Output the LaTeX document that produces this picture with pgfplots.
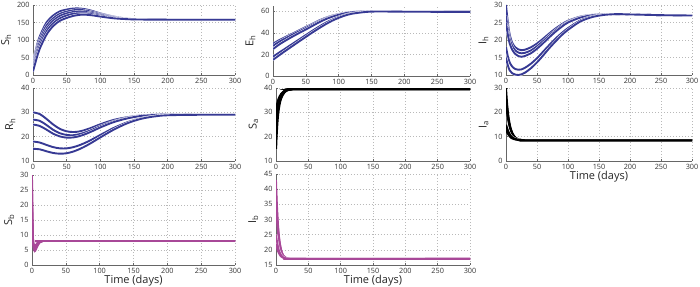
\documentclass[border=0pt]{standalone}
\usepackage{fontspec}
\setmainfont{Open Sans}
\usepackage{pgfplots}
\pgfplotsset{compat=1.18}
\definecolor{hblue}{RGB}{55,58,148}
\definecolor{bmag}{RGB}{168,72,152}
\pgfplotsset{
  panel/.style={
    scale only axis, anchor=south west,
    axis x line*=bottom, axis y line*=left,
    axis line style={draw=gray!80!black, line width=0.5pt},
    xmin=0, xmax=300, xtick={0,50,...,300},
    grid=major, major grid style={dash pattern=on 0.7pt off 2.3pt, gray!55, line width=0.5pt},
    tick align=inside, major tick length=2pt, tick style={gray!80!black, line width=0.4pt},
    ticklabel style={font=\fontsize{7.3}{8}\selectfont, text=black!80},
    /pgf/number format/assume math mode=true,
    label style={font=\fontsize{11}{12}\selectfont, text=black!85},
    xlabel style={yshift=5.5pt},
    ylabel style={yshift=-1pt},
    every axis plot/.append style={smooth, line width=1.9pt, no marks},
    scaled y ticks=false,
  },
  hl/.style={preaction={draw=white, line width=2.7pt}},
}
\begin{document}
\begin{tikzpicture}
\useasboundingbox (0,0) rectangle (700bp,-287bp);
% ---------- S_h
\begin{axis}[panel, at={(33bp,-75bp)}, width=202bp, height=70bp,
  ymin=0, ymax=200, ytick={0,50,...,200}, ylabel={S\textsubscript{h}}]
\addplot[hblue,hl] coordinates {(0,35)(5,78)(10,110)(20,150)(30,170)(40,182)(50,187)(60,190)(70,190)(80,187)(90,182)(100,176)(120,167)(140,161)(160,159)(200,158)(300,158)};
\addplot[hblue,hl] coordinates {(0,28)(5,70)(10,101)(20,141)(30,162)(40,175)(50,181)(60,185)(70,186)(80,183.5)(90,179)(100,174)(120,166)(140,160.7)(160,158.8)(200,158)(300,158)};
\addplot[hblue,hl] coordinates {(0,22)(5,62)(10,93)(20,132)(30,155)(40,169)(50,176)(60,180)(70,181)(80,179.5)(90,176)(100,172)(120,165)(140,160.3)(160,158.7)(200,158)(300,158)};
\addplot[hblue,hl] coordinates {(0,16)(5,54)(10,84)(20,124)(30,148)(40,162)(50,170)(60,175)(70,176.5)(80,176)(90,173)(100,169.5)(120,163.5)(140,160)(160,158.6)(200,158)(300,158)};
\addplot[hblue,hl] coordinates {(0,10)(5,45)(10,75)(20,115)(30,140)(40,155)(50,163)(60,169)(70,172)(80,172)(90,170)(100,167)(120,162)(140,159.5)(160,158.5)(200,158)(300,158)};
\end{axis}
% ---------- E_h
\begin{axis}[panel, at={(273bp,-76bp)}, width=197bp, height=70bp,
  ymin=0, ymax=65, ytick={0,20,40,60}, ylabel={E\textsubscript{h}}]
\addplot[hblue,hl] coordinates {(0,30)(10,33.5)(20,36.5)(30,39.5)(40,42.5)(50,45.5)(60,48.5)(70,51.5)(80,54)(90,56)(100,57.5)(110,58.7)(120,59.4)(140,60)(160,60)(200,59.7)(300,59.5)};
\addplot[hblue,hl] coordinates {(0,28)(10,32)(20,35.3)(30,38.5)(40,41.5)(50,44.5)(60,47.6)(70,50.6)(80,53.3)(90,55.5)(100,57.2)(110,58.5)(120,59.3)(140,60)(160,60)(200,59.7)(300,59.5)};
\addplot[hblue,hl] coordinates {(0,25)(10,29.5)(20,33.2)(30,36.7)(40,40)(50,43.2)(60,46.5)(70,49.8)(80,52.7)(90,55)(100,56.8)(110,58.3)(120,59.2)(140,59.9)(160,60)(200,59.7)(300,59.5)};
\addplot[hblue,hl] coordinates {(0,18)(10,22)(20,26)(30,30)(40,34)(50,38)(60,42)(70,45.8)(80,49.3)(90,52.3)(100,54.8)(110,56.8)(120,58.2)(140,59.6)(160,59.9)(200,59.7)(300,59.5)};
\addplot[hblue,hl] coordinates {(0,15)(10,19.5)(20,23.8)(30,28)(40,32.2)(50,36.3)(60,40.4)(70,44.3)(80,48)(90,51.3)(100,54)(110,56.2)(120,57.8)(140,59.4)(160,59.9)(200,59.7)(300,59.5)};
\end{axis}
% ---------- I_h
\begin{axis}[panel, at={(506bp,-75bp)}, width=186bp, height=70bp,
  ymin=10, ymax=30, ytick={10,15,...,30}, ylabel={I\textsubscript{h}}]
\addplot[hblue,hl] coordinates {(0,30)(3,25)(6,21.5)(10,19.2)(15,17.9)(20,17.3)(25,17.1)(30,17.2)(40,17.9)(50,19)(60,20.4)(70,21.9)(80,23.3)(90,24.5)(100,25.5)(120,26.7)(140,27.2)(160,27.4)(180,27.4)(200,27.3)(250,27.1)(300,27)};
\addplot[hblue,hl] coordinates {(0,27)(3,23)(6,20.2)(10,18.3)(15,17)(20,16.4)(25,16.2)(30,16.3)(40,17)(50,18.2)(60,19.7)(70,21.3)(80,22.8)(90,24.1)(100,25.2)(120,26.5)(140,27.1)(160,27.35)(180,27.4)(200,27.3)(250,27.1)(300,27)};
\addplot[hblue,hl] coordinates {(0,25)(3,21.5)(6,19)(10,17.2)(15,16)(20,15.4)(25,15.2)(30,15.4)(40,16.2)(50,17.5)(60,19.1)(70,20.8)(80,22.4)(90,23.8)(100,25)(120,26.4)(140,27.1)(160,27.35)(180,27.4)(200,27.3)(250,27.1)(300,27)};
\addplot[hblue,hl] coordinates {(0,18)(3,15.3)(6,13.6)(10,12.4)(15,11.7)(20,11.5)(25,11.6)(30,12)(40,13.2)(50,14.8)(60,16.7)(70,18.6)(80,20.4)(90,22)(100,23.4)(120,25.6)(140,26.8)(160,27.25)(180,27.4)(200,27.3)(250,27.1)(300,27)};
\addplot[hblue,hl] coordinates {(0,15)(3,12.7)(6,11.3)(10,10.5)(15,10.1)(20,10)(25,10.2)(30,10.6)(40,11.9)(50,13.6)(60,15.6)(70,17.7)(80,19.6)(90,21.4)(100,22.9)(120,25.3)(140,26.6)(160,27.2)(180,27.4)(200,27.3)(250,27.1)(300,27)};
\end{axis}
% ---------- R_h
\begin{axis}[panel, at={(33bp,-161bp)}, width=202bp, height=73bp,
  ymin=10, ymax=40, ytick={10,20,30,40}, ylabel={R\textsubscript{h}}]
\addplot[hblue,hl] coordinates {(0,30)(10,29.3)(20,27.3)(30,25)(40,23.2)(50,22.2)(60,21.9)(70,22.2)(80,23)(90,24)(100,25.1)(120,26.9)(140,28)(160,28.7)(180,29)(200,29.1)(250,29)(300,29)};
\addplot[hblue,hl] coordinates {(0,27)(10,26.5)(20,24.8)(30,22.8)(40,21.4)(50,20.7)(60,20.6)(70,21.1)(80,22)(90,23.1)(100,24.3)(120,26.3)(140,27.7)(160,28.6)(180,29)(200,29.1)(250,29)(300,29)};
\addplot[hblue,hl] coordinates {(0,25)(10,24.4)(20,22.9)(30,21.2)(40,20.1)(50,19.6)(60,19.7)(70,20.3)(80,21.3)(90,22.5)(100,23.8)(120,26)(140,27.5)(160,28.5)(180,28.9)(200,29.1)(250,29)(300,29)};
\addplot[hblue,hl] coordinates {(0,18)(10,17.6)(20,16.6)(30,15.7)(40,15.2)(50,15.2)(60,15.7)(70,16.6)(80,17.8)(90,19.2)(100,20.7)(120,23.6)(140,25.9)(160,27.5)(180,28.4)(200,28.9)(250,29)(300,29)};
\addplot[hblue,hl] coordinates {(0,15)(10,14.8)(20,14)(30,13.3)(40,13)(50,13.2)(60,13.9)(70,15)(80,16.4)(90,18)(100,19.7)(120,22.9)(140,25.5)(160,27.3)(180,28.3)(200,28.8)(250,29)(300,29)};
\end{axis}
% ---------- S_a
\begin{axis}[panel, at={(276bp,-161bp)}, width=194bp, height=73bp,
  ymin=10, ymax=40, ytick={10,20,30,40}, ylabel={S\textsubscript{a}},
  every axis plot/.append style={tension=0.45, line width=2.2pt}]
\addplot[black] coordinates {(0,15)(1,21)(2,25.5)(3,28.7)(4,31)(6,34)(8,35.8)(10,37)(13,38.2)(16,38.9)(20,39.3)(25,39.5)(40,39.6)(300,39.6)};
\addplot[black] coordinates {(0,20)(1,24.5)(2,28)(3,30.5)(4,32.4)(6,34.8)(8,36.3)(10,37.3)(13,38.4)(16,39)(20,39.35)(25,39.5)(40,39.6)(300,39.6)};
\addplot[black] coordinates {(0,25)(1,28.2)(2,30.6)(3,32.4)(4,33.8)(6,35.7)(8,36.9)(10,37.7)(13,38.6)(16,39.1)(20,39.4)(25,39.55)(40,39.6)(300,39.6)};
\addplot[black] coordinates {(0,28)(1,30.4)(2,32.2)(3,33.6)(4,34.7)(6,36.2)(8,37.2)(10,37.9)(13,38.7)(16,39.15)(20,39.4)(25,39.55)(40,39.6)(300,39.6)};
\addplot[black] coordinates {(0,30)(1,32)(2,33.5)(3,34.6)(4,35.5)(6,36.7)(8,37.5)(10,38.1)(13,38.8)(16,39.2)(20,39.45)(25,39.55)(40,39.6)(300,39.6)};
\end{axis}
% ---------- I_a
\begin{axis}[panel, at={(506bp,-161bp)}, width=186bp, height=73bp,
  ymin=0, ymax=30, ytick={0,10,20,30}, ylabel={I\textsubscript{a}}, xlabel={Time (days)},
  every axis plot/.append style={tension=0.45, line width=2pt}]
\addplot[black] coordinates {(0,30)(1,26)(2,22.8)(3,20.2)(4,18.1)(6,15)(8,13)(10,11.6)(13,10.2)(16,9.4)(20,8.9)(25,8.65)(30,8.55)(40,8.5)(300,8.5)};
\addplot[black] coordinates {(0,27)(1,23.8)(2,21.2)(3,19)(4,17.2)(6,14.5)(8,12.7)(10,11.4)(13,10.1)(16,9.35)(20,8.85)(25,8.6)(30,8.55)(40,8.5)(300,8.5)};
\addplot[black] coordinates {(0,24)(1,21.6)(2,19.5)(3,17.8)(4,16.3)(6,14)(8,12.4)(10,11.2)(13,10)(16,9.3)(20,8.8)(25,8.6)(30,8.55)(40,8.5)(300,8.5)};
\addplot[black,preaction={draw=white,line width=2.7pt}] coordinates {(0,15)(1,14.1)(2,13.3)(3,12.6)(4,12)(6,11)(8,10.3)(10,9.8)(13,9.3)(16,9)(20,8.75)(25,8.6)(30,8.55)(40,8.5)(300,8.5)};
\addplot[black] coordinates {(0,13)(1,12.3)(2,11.7)(3,11.2)(4,10.8)(6,10.1)(8,9.6)(10,9.3)(13,9)(16,8.8)(20,8.65)(25,8.55)(40,8.5)(300,8.5)};
\end{axis}
% ---------- S_b
\begin{axis}[panel, at={(32bp,-265bp)}, width=203bp, height=90bp,
  ymin=0, ymax=30, ytick={0,5,...,30}, ylabel={S\textsubscript{b}}, xlabel={Time (days)},
  every axis plot/.append style={tension=0.4}]
\addplot[bmag] coordinates {(0,30)(0.5,20)(1,13)(1.5,9)(2,6.8)(3,5)(4,4.6)(5,4.8)(6,5.3)(8,6.3)(10,7.1)(12,7.6)(15,7.9)(20,8)(300,8)};
\addplot[bmag] coordinates {(0,27)(0.5,18)(1,12)(1.5,8.6)(2,6.8)(3,5.4)(4,5.1)(5,5.3)(6,5.7)(8,6.6)(10,7.3)(12,7.7)(15,7.95)(20,8)(300,8)};
\addplot[bmag] coordinates {(0,25)(0.5,17)(1,11.5)(1.5,8.6)(2,7)(3,5.8)(4,5.6)(5,5.8)(6,6.1)(8,6.8)(10,7.4)(12,7.8)(15,7.95)(20,8)(300,8)};
\addplot[bmag] coordinates {(0,18)(0.5,13)(1,9.8)(1.5,8)(2,7)(3,6.2)(4,6)(5,6.1)(6,6.4)(8,7)(10,7.5)(12,7.8)(15,7.95)(20,8)(300,8)};
\addplot[bmag] coordinates {(0,15)(0.5,11.5)(1,9.2)(1.5,7.9)(2,7.2)(3,6.6)(4,6.5)(5,6.6)(6,6.8)(8,7.2)(10,7.6)(12,7.85)(15,7.95)(20,8)(300,8)};
\end{axis}
% ---------- I_b
\begin{axis}[panel, at={(276bp,-265bp)}, width=194bp, height=91bp,
  ymin=15, ymax=45, ytick={15,20,...,45}, ylabel={I\textsubscript{b}}, xlabel={Time (days)},
  every axis plot/.append style={tension=0.45}]
\addplot[bmag] coordinates {(0,43)(1,37)(2,32.3)(3,28.6)(4,25.8)(5,23.7)(6,22.1)(8,19.9)(10,18.6)(12,17.9)(15,17.4)(20,17.1)(30,17)(300,17)};
\addplot[bmag] coordinates {(0,40)(1,35)(2,31)(3,27.8)(4,25.2)(5,23.3)(6,21.8)(8,19.8)(10,18.6)(12,17.9)(15,17.4)(20,17.1)(30,17)(300,17)};
\addplot[bmag] coordinates {(0,35)(1,31.4)(2,28.3)(3,25.8)(4,23.9)(5,22.3)(6,21.1)(8,19.4)(10,18.4)(12,17.8)(15,17.35)(20,17.1)(30,17)(300,17)};
\addplot[bmag,preaction={draw=white,line width=2.6pt}] coordinates {(0,25)(1,23.5)(2,22.2)(3,21.1)(4,20.2)(5,19.5)(6,19)(8,18.2)(10,17.7)(12,17.4)(15,17.2)(20,17.05)(30,17)(300,17)};
\addplot[bmag] coordinates {(0,22)(1,21.1)(2,20.3)(3,19.6)(4,19.1)(5,18.7)(6,18.3)(8,17.8)(10,17.5)(12,17.3)(15,17.15)(20,17.05)(30,17)(300,17)};
\end{axis}
\end{tikzpicture}
\end{document}
